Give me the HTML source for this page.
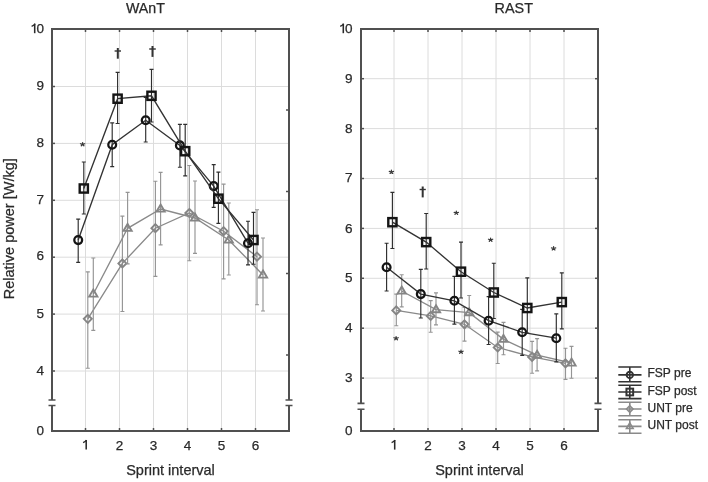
<!DOCTYPE html>
<html><head><meta charset="utf-8"><style>
html,body{margin:0;padding:0;background:#fff;width:708px;height:482px;overflow:hidden}
svg{display:block;will-change:transform}
text{font-family:"Liberation Sans",sans-serif;fill:#2a2a2a;stroke:#2a2a2a;stroke-width:0.25px}
</style></head><body>
<svg width="708" height="482" viewBox="0 0 708 482">
<rect width="708" height="482" fill="#fff"/>
<line x1="85.5" y1="29" x2="85.5" y2="431" stroke="#dcdcdc" stroke-width="1"/>
<line x1="119.5" y1="29" x2="119.5" y2="431" stroke="#dcdcdc" stroke-width="1"/>
<line x1="153.5" y1="29" x2="153.5" y2="431" stroke="#dcdcdc" stroke-width="1"/>
<line x1="187.5" y1="29" x2="187.5" y2="431" stroke="#dcdcdc" stroke-width="1"/>
<line x1="221.5" y1="29" x2="221.5" y2="431" stroke="#dcdcdc" stroke-width="1"/>
<line x1="255.5" y1="29" x2="255.5" y2="431" stroke="#dcdcdc" stroke-width="1"/>
<line x1="52" y1="86.5" x2="289" y2="86.5" stroke="#dcdcdc" stroke-width="1"/>
<line x1="52" y1="143.4" x2="289" y2="143.4" stroke="#dcdcdc" stroke-width="1"/>
<line x1="52" y1="200.3" x2="289" y2="200.3" stroke="#dcdcdc" stroke-width="1"/>
<line x1="52" y1="257.2" x2="289" y2="257.2" stroke="#dcdcdc" stroke-width="1"/>
<line x1="52" y1="314.1" x2="289" y2="314.1" stroke="#dcdcdc" stroke-width="1"/>
<line x1="52" y1="371" x2="289" y2="371" stroke="#dcdcdc" stroke-width="1"/>
<path d="M52 400 V29 H289 V400 M52 405.5 V431 H289 V405.5" fill="none" stroke="#505050" stroke-width="2"/>
<path d="M48.5 400 h7 M48.5 405.5 h7" stroke="#505050" stroke-width="1.6"/>
<path d="M285.5 400 h7 M285.5 405.5 h7" stroke="#505050" stroke-width="1.6"/>
<path d="M85.5 29 v3 M85.5 431 v-3" stroke="#505050" stroke-width="1.5"/>
<path d="M119.5 29 v3 M119.5 431 v-3" stroke="#505050" stroke-width="1.5"/>
<path d="M153.5 29 v3 M153.5 431 v-3" stroke="#505050" stroke-width="1.5"/>
<path d="M187.5 29 v3 M187.5 431 v-3" stroke="#505050" stroke-width="1.5"/>
<path d="M221.5 29 v3 M221.5 431 v-3" stroke="#505050" stroke-width="1.5"/>
<path d="M255.5 29 v3 M255.5 431 v-3" stroke="#505050" stroke-width="1.5"/>
<path d="M52 86.5 h3" stroke="#505050" stroke-width="1.5"/>
<path d="M52 143.4 h3" stroke="#505050" stroke-width="1.5"/>
<path d="M52 200.3 h3" stroke="#505050" stroke-width="1.5"/>
<path d="M52 257.2 h3" stroke="#505050" stroke-width="1.5"/>
<path d="M52 314.1 h3" stroke="#505050" stroke-width="1.5"/>
<path d="M52 371 h3" stroke="#505050" stroke-width="1.5"/>
<path d="M289 110 h-3" stroke="#505050" stroke-width="1.5"/>
<path d="M289 191.5 h-3" stroke="#505050" stroke-width="1.5"/>
<path d="M289 273.5 h-3" stroke="#505050" stroke-width="1.5"/>
<path d="M289 355 h-3" stroke="#505050" stroke-width="1.5"/>
<text x="44" y="33.2" text-anchor="end" font-size="13.5">0</text>
<path d="M34.7 23.6 V33.2" stroke="#2a2a2a" stroke-width="1.55" fill="none"/><path d="M35 23.8 C34.1 25.2 32.9 25.8 31.6 26.3" stroke="#2a2a2a" stroke-width="1.4" fill="none"/>
<text x="44" y="89.5" text-anchor="end" font-size="13.5">9</text>
<text x="44" y="146.8" text-anchor="end" font-size="13.5">8</text>
<text x="44" y="204.2" text-anchor="end" font-size="13.5">7</text>
<text x="44" y="260.4" text-anchor="end" font-size="13.5">6</text>
<text x="44" y="317.6" text-anchor="end" font-size="13.5">5</text>
<text x="44" y="375.3" text-anchor="end" font-size="13.5">4</text>
<text x="44" y="435.1" text-anchor="end" font-size="13.5">0</text>
<path d="M86.2 440 V449.6" stroke="#2a2a2a" stroke-width="1.55" fill="none"/><path d="M86.5 440.2 C85.6 441.6 84.4 442.2 83.1 442.7" stroke="#2a2a2a" stroke-width="1.4" fill="none"/>
<text x="119.5" y="449.6" text-anchor="middle" font-size="13.5">2</text>
<text x="153.5" y="449.6" text-anchor="middle" font-size="13.5">3</text>
<text x="187.5" y="449.6" text-anchor="middle" font-size="13.5">4</text>
<text x="221.5" y="449.6" text-anchor="middle" font-size="13.5">5</text>
<text x="255.5" y="449.6" text-anchor="middle" font-size="13.5">6</text>
<text x="170.5" y="474.5" text-anchor="middle" font-size="14.5">Sprint interval</text>
<path d="M87.8 271.8 V368.2 M85.8 271.8 h4 M85.8 368.2 h4" stroke="#959595" stroke-width="1.15" fill="none"/>
<path d="M122.4 216.1 V311.5 M120.4 216.1 h4 M120.4 311.5 h4" stroke="#959595" stroke-width="1.15" fill="none"/>
<path d="M155.4 181.2 V276.3 M153.4 181.2 h4 M153.4 276.3 h4" stroke="#959595" stroke-width="1.15" fill="none"/>
<path d="M189.3 165.5 V260.7 M187.3 165.5 h4 M187.3 260.7 h4" stroke="#959595" stroke-width="1.15" fill="none"/>
<path d="M223.6 184.1 V278.8 M221.6 184.1 h4 M221.6 278.8 h4" stroke="#959595" stroke-width="1.15" fill="none"/>
<path d="M257 209.7 V304.7 M255 209.7 h4 M255 304.7 h4" stroke="#959595" stroke-width="1.15" fill="none"/>
<polyline points="87.8,318.8 122.4,263.4 155.4,228.2 189.3,213 223.6,231.2 257,256.7" fill="none" stroke="#8a8a8a" stroke-width="1.35"/>
<path d="M87.8 314.8 L91.8 318.8 L87.8 322.8 L83.8 318.8 Z" fill="none" stroke="#858585" stroke-width="1.9"/>
<path d="M122.4 259.4 L126.4 263.4 L122.4 267.4 L118.4 263.4 Z" fill="none" stroke="#858585" stroke-width="1.9"/>
<path d="M155.4 224.2 L159.4 228.2 L155.4 232.2 L151.4 228.2 Z" fill="none" stroke="#858585" stroke-width="1.9"/>
<path d="M189.3 209 L193.3 213 L189.3 217 L185.3 213 Z" fill="none" stroke="#858585" stroke-width="1.9"/>
<path d="M223.6 227.2 L227.6 231.2 L223.6 235.2 L219.6 231.2 Z" fill="none" stroke="#858585" stroke-width="1.9"/>
<path d="M257 252.7 L261 256.7 L257 260.7 L253 256.7 Z" fill="none" stroke="#858585" stroke-width="1.9"/>
<path d="M93.3 258 V330.4 M91.3 258 h4 M91.3 330.4 h4" stroke="#959595" stroke-width="1.15" fill="none"/>
<path d="M127.6 192.3 V263.9 M125.6 192.3 h4 M125.6 263.9 h4" stroke="#959595" stroke-width="1.15" fill="none"/>
<path d="M160.6 172.4 V244.9 M158.6 172.4 h4 M158.6 244.9 h4" stroke="#959595" stroke-width="1.15" fill="none"/>
<path d="M195 181 V253.3 M193 181 h4 M193 253.3 h4" stroke="#959595" stroke-width="1.15" fill="none"/>
<path d="M228.8 203 V275 M226.8 203 h4 M226.8 275 h4" stroke="#959595" stroke-width="1.15" fill="none"/>
<path d="M263 238 V311 M261 238 h4 M261 311 h4" stroke="#959595" stroke-width="1.15" fill="none"/>
<polyline points="93.3,294 127.6,228.3 160.6,209 195,218 228.8,240 263,275" fill="none" stroke="#8a8a8a" stroke-width="1.35"/>
<path d="M93.3 289.6 L97.4 296.6 L89.2 296.6 Z" fill="none" stroke="#858585" stroke-width="1.9" stroke-linejoin="miter"/>
<path d="M127.6 223.9 L131.7 230.9 L123.5 230.9 Z" fill="none" stroke="#858585" stroke-width="1.9" stroke-linejoin="miter"/>
<path d="M160.6 204.6 L164.7 211.6 L156.5 211.6 Z" fill="none" stroke="#858585" stroke-width="1.9" stroke-linejoin="miter"/>
<path d="M195 213.6 L199.1 220.6 L190.9 220.6 Z" fill="none" stroke="#858585" stroke-width="1.9" stroke-linejoin="miter"/>
<path d="M228.8 235.6 L232.9 242.6 L224.7 242.6 Z" fill="none" stroke="#858585" stroke-width="1.9" stroke-linejoin="miter"/>
<path d="M263 270.6 L267.1 277.6 L258.9 277.6 Z" fill="none" stroke="#858585" stroke-width="1.9" stroke-linejoin="miter"/>
<path d="M78.2 219.1 V262.4 M76.2 219.1 h4 M76.2 262.4 h4" stroke="#2e2e2e" stroke-width="1.15" fill="none"/>
<path d="M112.2 122.8 V166.6 M110.2 122.8 h4 M110.2 166.6 h4" stroke="#2e2e2e" stroke-width="1.15" fill="none"/>
<path d="M145.7 97.5 V142 M143.7 97.5 h4 M143.7 142 h4" stroke="#2e2e2e" stroke-width="1.15" fill="none"/>
<path d="M179.9 124.4 V167.2 M177.9 124.4 h4 M177.9 167.2 h4" stroke="#2e2e2e" stroke-width="1.15" fill="none"/>
<path d="M213.7 164.6 V207.3 M211.7 164.6 h4 M211.7 207.3 h4" stroke="#2e2e2e" stroke-width="1.15" fill="none"/>
<path d="M248 221.2 V264.9 M246 221.2 h4 M246 264.9 h4" stroke="#2e2e2e" stroke-width="1.15" fill="none"/>
<polyline points="78.2,240.1 112.2,144.7 145.7,120.3 179.9,145.4 213.7,186.1 248,243.2" fill="none" stroke="#333333" stroke-width="1.35"/>
<circle cx="78.2" cy="240.1" r="3.9" fill="none" stroke="#141414" stroke-width="2.3"/>
<circle cx="112.2" cy="144.7" r="3.9" fill="none" stroke="#141414" stroke-width="2.3"/>
<circle cx="145.7" cy="120.3" r="3.9" fill="none" stroke="#141414" stroke-width="2.3"/>
<circle cx="179.9" cy="145.4" r="3.9" fill="none" stroke="#141414" stroke-width="2.3"/>
<circle cx="213.7" cy="186.1" r="3.9" fill="none" stroke="#141414" stroke-width="2.3"/>
<circle cx="248" cy="243.2" r="3.9" fill="none" stroke="#141414" stroke-width="2.3"/>
<path d="M83.8 162 V214 M81.8 162 h4 M81.8 214 h4" stroke="#2e2e2e" stroke-width="1.15" fill="none"/>
<path d="M117.6 72.4 V123.5 M115.6 72.4 h4 M115.6 123.5 h4" stroke="#2e2e2e" stroke-width="1.15" fill="none"/>
<path d="M151.5 69.3 V122 M149.5 69.3 h4 M149.5 122 h4" stroke="#2e2e2e" stroke-width="1.15" fill="none"/>
<path d="M185.2 124.4 V175.9 M183.2 124.4 h4 M183.2 175.9 h4" stroke="#2e2e2e" stroke-width="1.15" fill="none"/>
<path d="M218.4 172.1 V223.4 M216.4 172.1 h4 M216.4 223.4 h4" stroke="#2e2e2e" stroke-width="1.15" fill="none"/>
<path d="M253.5 212.4 V264.2 M251.5 212.4 h4 M251.5 264.2 h4" stroke="#2e2e2e" stroke-width="1.15" fill="none"/>
<polyline points="83.8,188.5 117.6,98.7 151.5,95.8 185.2,151.2 218.4,198.7 253.5,240" fill="none" stroke="#333333" stroke-width="1.35"/>
<rect x="79.7" y="184.4" width="8.2" height="8.2" fill="none" stroke="#141414" stroke-width="2.4"/>
<rect x="113.5" y="94.6" width="8.2" height="8.2" fill="none" stroke="#141414" stroke-width="2.4"/>
<rect x="147.4" y="91.7" width="8.2" height="8.2" fill="none" stroke="#141414" stroke-width="2.4"/>
<rect x="181.1" y="147.1" width="8.2" height="8.2" fill="none" stroke="#141414" stroke-width="2.4"/>
<rect x="214.3" y="194.6" width="8.2" height="8.2" fill="none" stroke="#141414" stroke-width="2.4"/>
<rect x="249.4" y="235.9" width="8.2" height="8.2" fill="none" stroke="#141414" stroke-width="2.4"/>
<line x1="394" y1="29" x2="394" y2="431" stroke="#dcdcdc" stroke-width="1"/>
<line x1="428" y1="29" x2="428" y2="431" stroke="#dcdcdc" stroke-width="1"/>
<line x1="462" y1="29" x2="462" y2="431" stroke="#dcdcdc" stroke-width="1"/>
<line x1="496" y1="29" x2="496" y2="431" stroke="#dcdcdc" stroke-width="1"/>
<line x1="530" y1="29" x2="530" y2="431" stroke="#dcdcdc" stroke-width="1"/>
<line x1="564" y1="29" x2="564" y2="431" stroke="#dcdcdc" stroke-width="1"/>
<line x1="361" y1="78.7" x2="598" y2="78.7" stroke="#dcdcdc" stroke-width="1"/>
<line x1="361" y1="128.6" x2="598" y2="128.6" stroke="#dcdcdc" stroke-width="1"/>
<line x1="361" y1="178.5" x2="598" y2="178.5" stroke="#dcdcdc" stroke-width="1"/>
<line x1="361" y1="228.4" x2="598" y2="228.4" stroke="#dcdcdc" stroke-width="1"/>
<line x1="361" y1="278.3" x2="598" y2="278.3" stroke="#dcdcdc" stroke-width="1"/>
<line x1="361" y1="328.2" x2="598" y2="328.2" stroke="#dcdcdc" stroke-width="1"/>
<line x1="361" y1="378.1" x2="598" y2="378.1" stroke="#dcdcdc" stroke-width="1"/>
<path d="M361 403.4 V29 H598 V403.4 M361 409.2 V431 H598 V409.2" fill="none" stroke="#505050" stroke-width="2"/>
<path d="M357.5 403.4 h7 M357.5 409.2 h7" stroke="#505050" stroke-width="1.6"/>
<path d="M594.5 403.4 h7 M594.5 409.2 h7" stroke="#505050" stroke-width="1.6"/>
<path d="M394 29 v3 M394 431 v-3" stroke="#505050" stroke-width="1.5"/>
<path d="M428 29 v3 M428 431 v-3" stroke="#505050" stroke-width="1.5"/>
<path d="M462 29 v3 M462 431 v-3" stroke="#505050" stroke-width="1.5"/>
<path d="M496 29 v3 M496 431 v-3" stroke="#505050" stroke-width="1.5"/>
<path d="M530 29 v3 M530 431 v-3" stroke="#505050" stroke-width="1.5"/>
<path d="M564 29 v3 M564 431 v-3" stroke="#505050" stroke-width="1.5"/>
<path d="M361 78.7 h3" stroke="#505050" stroke-width="1.5"/>
<path d="M361 128.6 h3" stroke="#505050" stroke-width="1.5"/>
<path d="M361 178.5 h3" stroke="#505050" stroke-width="1.5"/>
<path d="M361 228.4 h3" stroke="#505050" stroke-width="1.5"/>
<path d="M361 278.3 h3" stroke="#505050" stroke-width="1.5"/>
<path d="M361 328.2 h3" stroke="#505050" stroke-width="1.5"/>
<path d="M361 378.1 h3" stroke="#505050" stroke-width="1.5"/>
<path d="M598 78.7 h-3" stroke="#505050" stroke-width="1.5"/>
<path d="M598 128.6 h-3" stroke="#505050" stroke-width="1.5"/>
<path d="M598 178.5 h-3" stroke="#505050" stroke-width="1.5"/>
<path d="M598 228.4 h-3" stroke="#505050" stroke-width="1.5"/>
<path d="M598 278.3 h-3" stroke="#505050" stroke-width="1.5"/>
<path d="M598 328.2 h-3" stroke="#505050" stroke-width="1.5"/>
<path d="M598 378.1 h-3" stroke="#505050" stroke-width="1.5"/>
<text x="352.6" y="33.2" text-anchor="end" font-size="13.5">0</text>
<path d="M343.3 23.6 V33.2" stroke="#2a2a2a" stroke-width="1.55" fill="none"/><path d="M343.6 23.8 C342.7 25.2 341.5 25.8 340.2 26.3" stroke="#2a2a2a" stroke-width="1.4" fill="none"/>
<text x="352.6" y="82.7" text-anchor="end" font-size="13.5">9</text>
<text x="352.6" y="132.5" text-anchor="end" font-size="13.5">8</text>
<text x="352.6" y="182.3" text-anchor="end" font-size="13.5">7</text>
<text x="352.6" y="232.7" text-anchor="end" font-size="13.5">6</text>
<text x="352.6" y="282.4" text-anchor="end" font-size="13.5">5</text>
<text x="352.6" y="332.3" text-anchor="end" font-size="13.5">4</text>
<text x="352.6" y="381.6" text-anchor="end" font-size="13.5">3</text>
<text x="352.6" y="435.2" text-anchor="end" font-size="13.5">0</text>
<path d="M394.7 440 V449.6" stroke="#2a2a2a" stroke-width="1.55" fill="none"/><path d="M395 440.2 C394.1 441.6 392.9 442.2 391.6 442.7" stroke="#2a2a2a" stroke-width="1.4" fill="none"/>
<text x="428" y="449.6" text-anchor="middle" font-size="13.5">2</text>
<text x="462" y="449.6" text-anchor="middle" font-size="13.5">3</text>
<text x="496" y="449.6" text-anchor="middle" font-size="13.5">4</text>
<text x="530" y="449.6" text-anchor="middle" font-size="13.5">5</text>
<text x="564" y="449.6" text-anchor="middle" font-size="13.5">6</text>
<text x="479.5" y="474.5" text-anchor="middle" font-size="14.5">Sprint interval</text>
<path d="M396.3 294.1 V325.7 M394.3 294.1 h4 M394.3 325.7 h4" stroke="#959595" stroke-width="1.15" fill="none"/>
<path d="M430.7 300.6 V332.2 M428.7 300.6 h4 M428.7 332.2 h4" stroke="#959595" stroke-width="1.15" fill="none"/>
<path d="M464.5 307.5 V341.1 M462.5 307.5 h4 M462.5 341.1 h4" stroke="#959595" stroke-width="1.15" fill="none"/>
<path d="M497.7 332.1 V363.5 M495.7 332.1 h4 M495.7 363.5 h4" stroke="#959595" stroke-width="1.15" fill="none"/>
<path d="M532.1 341.4 V373.2 M530.1 341.4 h4 M530.1 373.2 h4" stroke="#959595" stroke-width="1.15" fill="none"/>
<path d="M565.5 348.2 V379.3 M563.5 348.2 h4 M563.5 379.3 h4" stroke="#959595" stroke-width="1.15" fill="none"/>
<polyline points="396.3,310.4 430.7,315.9 464.5,324.3 497.7,347.5 532.1,356.9 565.5,363.3" fill="none" stroke="#8a8a8a" stroke-width="1.35"/>
<path d="M396.3 306.4 L400.3 310.4 L396.3 314.4 L392.3 310.4 Z" fill="none" stroke="#858585" stroke-width="1.9"/>
<path d="M430.7 311.9 L434.7 315.9 L430.7 319.9 L426.7 315.9 Z" fill="none" stroke="#858585" stroke-width="1.9"/>
<path d="M464.5 320.3 L468.5 324.3 L464.5 328.3 L460.5 324.3 Z" fill="none" stroke="#858585" stroke-width="1.9"/>
<path d="M497.7 343.5 L501.7 347.5 L497.7 351.5 L493.7 347.5 Z" fill="none" stroke="#858585" stroke-width="1.9"/>
<path d="M532.1 352.9 L536.1 356.9 L532.1 360.9 L528.1 356.9 Z" fill="none" stroke="#858585" stroke-width="1.9"/>
<path d="M565.5 359.3 L569.5 363.3 L565.5 367.3 L561.5 363.3 Z" fill="none" stroke="#858585" stroke-width="1.9"/>
<path d="M401.7 274.7 V306.9 M399.7 274.7 h4 M399.7 306.9 h4" stroke="#959595" stroke-width="1.15" fill="none"/>
<path d="M436 292.8 V324.9 M434 292.8 h4 M434 324.9 h4" stroke="#959595" stroke-width="1.15" fill="none"/>
<path d="M469.2 295.5 V327 M467.2 295.5 h4 M467.2 327 h4" stroke="#959595" stroke-width="1.15" fill="none"/>
<path d="M503.5 322.4 V354.7 M501.5 322.4 h4 M501.5 354.7 h4" stroke="#959595" stroke-width="1.15" fill="none"/>
<path d="M537.1 338.6 V370.9 M535.1 338.6 h4 M535.1 370.9 h4" stroke="#959595" stroke-width="1.15" fill="none"/>
<path d="M571.5 346.3 V378.2 M569.5 346.3 h4 M569.5 378.2 h4" stroke="#959595" stroke-width="1.15" fill="none"/>
<polyline points="401.7,291 436,309.7 469.2,312.7 503.5,339.3 537.1,355.2 571.5,363" fill="none" stroke="#8a8a8a" stroke-width="1.35"/>
<path d="M401.7 286.6 L405.8 293.6 L397.6 293.6 Z" fill="none" stroke="#858585" stroke-width="1.9" stroke-linejoin="miter"/>
<path d="M436 305.3 L440.1 312.3 L431.9 312.3 Z" fill="none" stroke="#858585" stroke-width="1.9" stroke-linejoin="miter"/>
<path d="M469.2 308.3 L473.3 315.3 L465.1 315.3 Z" fill="none" stroke="#858585" stroke-width="1.9" stroke-linejoin="miter"/>
<path d="M503.5 334.9 L507.6 341.9 L499.4 341.9 Z" fill="none" stroke="#858585" stroke-width="1.9" stroke-linejoin="miter"/>
<path d="M537.1 350.8 L541.2 357.8 L533 357.8 Z" fill="none" stroke="#858585" stroke-width="1.9" stroke-linejoin="miter"/>
<path d="M571.5 358.6 L575.6 365.6 L567.4 365.6 Z" fill="none" stroke="#858585" stroke-width="1.9" stroke-linejoin="miter"/>
<path d="M386.6 243.2 V291 M384.6 243.2 h4 M384.6 291 h4" stroke="#2e2e2e" stroke-width="1.15" fill="none"/>
<path d="M420.8 269.4 V318 M418.8 269.4 h4 M418.8 318 h4" stroke="#2e2e2e" stroke-width="1.15" fill="none"/>
<path d="M454.4 276.4 V324.1 M452.4 276.4 h4 M452.4 324.1 h4" stroke="#2e2e2e" stroke-width="1.15" fill="none"/>
<path d="M488.6 296.6 V344.5 M486.6 296.6 h4 M486.6 344.5 h4" stroke="#2e2e2e" stroke-width="1.15" fill="none"/>
<path d="M522.2 309.3 V355.4 M520.2 309.3 h4 M520.2 355.4 h4" stroke="#2e2e2e" stroke-width="1.15" fill="none"/>
<path d="M556.3 313.9 V361.8 M554.3 313.9 h4 M554.3 361.8 h4" stroke="#2e2e2e" stroke-width="1.15" fill="none"/>
<polyline points="386.6,267.3 420.8,294.1 454.4,300.8 488.6,320.7 522.2,332.3 556.3,338.2" fill="none" stroke="#333333" stroke-width="1.35"/>
<circle cx="386.6" cy="267.3" r="3.9" fill="none" stroke="#141414" stroke-width="2.3"/>
<circle cx="420.8" cy="294.1" r="3.9" fill="none" stroke="#141414" stroke-width="2.3"/>
<circle cx="454.4" cy="300.8" r="3.9" fill="none" stroke="#141414" stroke-width="2.3"/>
<circle cx="488.6" cy="320.7" r="3.9" fill="none" stroke="#141414" stroke-width="2.3"/>
<circle cx="522.2" cy="332.3" r="3.9" fill="none" stroke="#141414" stroke-width="2.3"/>
<circle cx="556.3" cy="338.2" r="3.9" fill="none" stroke="#141414" stroke-width="2.3"/>
<path d="M392.4 192.4 V248.5 M390.4 192.4 h4 M390.4 248.5 h4" stroke="#2e2e2e" stroke-width="1.15" fill="none"/>
<path d="M426.2 213.5 V269 M424.2 213.5 h4 M424.2 269 h4" stroke="#2e2e2e" stroke-width="1.15" fill="none"/>
<path d="M461 242.1 V298 M459 242.1 h4 M459 298 h4" stroke="#2e2e2e" stroke-width="1.15" fill="none"/>
<path d="M493.8 263.2 V318.5 M491.8 263.2 h4 M491.8 318.5 h4" stroke="#2e2e2e" stroke-width="1.15" fill="none"/>
<path d="M527.3 277.9 V333 M525.3 277.9 h4 M525.3 333 h4" stroke="#2e2e2e" stroke-width="1.15" fill="none"/>
<path d="M561.8 272.8 V328.9 M559.8 272.8 h4 M559.8 328.9 h4" stroke="#2e2e2e" stroke-width="1.15" fill="none"/>
<polyline points="392.4,222.2 426.2,242.1 461,271.7 493.8,292.5 527.3,308 561.8,302.1" fill="none" stroke="#333333" stroke-width="1.35"/>
<rect x="388.3" y="218.1" width="8.2" height="8.2" fill="none" stroke="#141414" stroke-width="2.4"/>
<rect x="422.1" y="238" width="8.2" height="8.2" fill="none" stroke="#141414" stroke-width="2.4"/>
<rect x="456.9" y="267.6" width="8.2" height="8.2" fill="none" stroke="#141414" stroke-width="2.4"/>
<rect x="489.7" y="288.4" width="8.2" height="8.2" fill="none" stroke="#141414" stroke-width="2.4"/>
<rect x="523.2" y="303.9" width="8.2" height="8.2" fill="none" stroke="#141414" stroke-width="2.4"/>
<rect x="557.7" y="298" width="8.2" height="8.2" fill="none" stroke="#141414" stroke-width="2.4"/>
<path d="M117.8 48 V58.7" stroke="#333333" stroke-width="2"/><path d="M114.6 51 H121" stroke="#333333" stroke-width="1.4"/>
<path d="M152.5 46 V56.9" stroke="#333333" stroke-width="2"/><path d="M149.2 49 H155.8" stroke="#333333" stroke-width="1.4"/>
<path d="M422.7 186.5 V197.4" stroke="#333333" stroke-width="2"/><path d="M419.6 189.5 H425.8" stroke="#333333" stroke-width="1.4"/>
<path d="M82.6 144.3 L82.6 142.5 M82.6 144.3 L84.74 143.74 M82.6 144.3 L83.92 145.76 M82.6 144.3 L81.28 145.76 M82.6 144.3 L80.46 143.74 " stroke="#3a3a3a" stroke-width="1.25" stroke-linecap="round"/>
<path d="M391.4 172 L391.4 170.2 M391.4 172 L393.54 171.44 M391.4 172 L392.72 173.46 M391.4 172 L390.08 173.46 M391.4 172 L389.26 171.44 " stroke="#3a3a3a" stroke-width="1.25" stroke-linecap="round"/>
<path d="M396.1 338.3 L396.1 336.5 M396.1 338.3 L398.24 337.74 M396.1 338.3 L397.42 339.76 M396.1 338.3 L394.78 339.76 M396.1 338.3 L393.96 337.74 " stroke="#3a3a3a" stroke-width="1.25" stroke-linecap="round"/>
<path d="M456.3 212.9 L456.3 211.1 M456.3 212.9 L458.44 212.34 M456.3 212.9 L457.62 214.36 M456.3 212.9 L454.98 214.36 M456.3 212.9 L454.16 212.34 " stroke="#3a3a3a" stroke-width="1.25" stroke-linecap="round"/>
<path d="M461 351.8 L461 350 M461 351.8 L463.14 351.24 M461 351.8 L462.32 353.26 M461 351.8 L459.68 353.26 M461 351.8 L458.86 351.24 " stroke="#3a3a3a" stroke-width="1.25" stroke-linecap="round"/>
<path d="M490.6 239.8 L490.6 238 M490.6 239.8 L492.74 239.24 M490.6 239.8 L491.92 241.26 M490.6 239.8 L489.28 241.26 M490.6 239.8 L488.46 239.24 " stroke="#3a3a3a" stroke-width="1.25" stroke-linecap="round"/>
<path d="M553.6 248.5 L553.6 246.7 M553.6 248.5 L555.74 247.94 M553.6 248.5 L554.92 249.96 M553.6 248.5 L552.28 249.96 M553.6 248.5 L551.46 247.94 " stroke="#3a3a3a" stroke-width="1.25" stroke-linecap="round"/>
<text x="126" y="13" font-size="14.2">WAnT</text>
<text x="494.6" y="12.8" font-size="14.4">RAST</text>
<text transform="translate(14.1 228.75) rotate(-90)" text-anchor="middle" font-size="14.5">Relative power [W/kg]</text>
<path d="M618.3 367 H641.5 M618.3 374.9 H641.5 M618.3 381.7 H641.5 M629.8 367 V381.7" stroke="#333333" stroke-width="1.6" fill="none"/>
<circle cx="629.8" cy="374.9" r="3.2" fill="none" stroke="#333333" stroke-width="1.89"/>
<text x="647.5" y="377.4" font-size="12">FSP pre</text>
<path d="M618.3 385.3 H641.5 M618.3 392 H641.5 M618.3 398.6 H641.5 M629.8 385.3 V398.6" stroke="#333333" stroke-width="1.6" fill="none"/>
<rect x="626.44" y="388.64" width="6.72" height="6.72" fill="none" stroke="#333333" stroke-width="1.97"/>
<text x="647.5" y="394.5" font-size="12">FSP post</text>
<path d="M618.3 402.3 H641.5 M618.3 409 H641.5 M618.3 415.8 H641.5 M629.8 402.3 V415.8" stroke="#8a8a8a" stroke-width="1.6" fill="none"/>
<path d="M629.8 405.72 L633.08 409 L629.8 412.28 L626.52 409 Z" fill="none" stroke="#8a8a8a" stroke-width="1.56"/>
<text x="647.5" y="411.5" font-size="12">UNT pre</text>
<path d="M618.3 419.7 H641.5 M618.3 426.4 H641.5 M618.3 433.3 H641.5 M629.8 419.7 V433.3" stroke="#8a8a8a" stroke-width="1.6" fill="none"/>
<path d="M629.8 422.79 L633.16 428.53 L626.44 428.53 Z" fill="none" stroke="#8a8a8a" stroke-width="1.56" stroke-linejoin="miter"/>
<text x="647.5" y="428.9" font-size="12">UNT post</text>
</svg>
</body></html>
